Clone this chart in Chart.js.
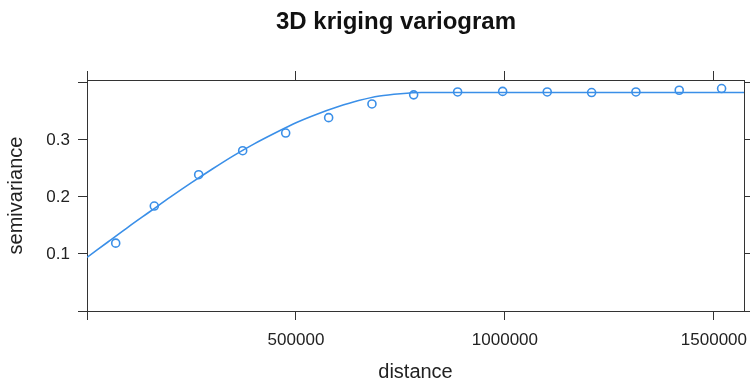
<!DOCTYPE html>
<html><head><meta charset="utf-8">
<script src="https://cdn.jsdelivr.net/npm/chart.js@4/dist/chart.umd.min.js"></script>
<style>html,body{margin:0;padding:0;background:#fff}#wrap{width:750px;height:382px;position:relative}</style>
</head><body><div id="wrap"><canvas id="c" width="750" height="382"></canvas></div>
<script>
const chartTitle = "3D kriging variogram";
const xLabel = "distance";
const yLabel = "semivariance";
// empirical variogram points
const distance = [68700, 161000, 267200, 372500, 475400, 578200, 681800, 781600, 886800, 994500, 1101200, 1207400, 1313400, 1417000, 1518400];
const gamma = [0.119, 0.184, 0.239, 0.281, 0.312, 0.339, 0.363, 0.379, 0.384, 0.385, 0.384, 0.383, 0.384, 0.387, 0.390];
// fitted model curve
const modelDistance = [0, 50000, 100000, 150000, 200000, 250000, 300000, 350000, 400000, 450000, 500000, 550000, 600000, 650000, 700000, 750000, 800000, 1572000];
const modelGamma = [0.094, 0.121, 0.148, 0.174, 0.200, 0.225, 0.249, 0.272, 0.293, 0.312, 0.330, 0.345, 0.358, 0.369, 0.377, 0.381, 0.383, 0.383];
const xTicks = [0, 500000, 1000000, 1500000];
const yTicks = [0, 0.1, 0.2, 0.3, 0.4];
const xLabeled = [500000, 1000000, 1500000];
const yLabeled = [0.1, 0.2, 0.3];

const BLUE = '#3a8fe8';
const AXIS = '#333333';
const TEXT = '#222222';
const FONT = "'Liberation Sans', Arial, sans-serif";

const titlePlugin = {
  id: 'mainTitle',
  afterDraw(chart) {
    const ctx = chart.ctx;
    ctx.save();
    ctx.fillStyle = '#111';
    ctx.font = "bold 24px " + FONT;
    ctx.textAlign = 'center';
    ctx.textBaseline = 'alphabetic';
    ctx.fillText(chartTitle, 396, 29);
    ctx.restore();
  }
};

const setTicks = (arr) => (scale) => { scale.ticks = arr.map(v => ({value: v})); };
const fixSize = (w, h) => (s) => {
  if (w !== null) s.width = w;
  if (h !== null) s.height = h;
  s.paddingLeft = 0; s.paddingRight = 0; s.paddingTop = 0; s.paddingBottom = 0;
};

const gridOpts = {drawOnChartArea: false, drawTicks: true, tickLength: 9, color: AXIS, lineWidth: 1};
const borderOpts = {display: true, color: AXIS, width: 1};

new Chart(document.getElementById('c'), {
  type: 'scatter',
  data: {
    datasets: [
      {
        label: 'model',
        data: modelDistance.map((d, i) => ({x: d, y: modelGamma[i]})),
        showLine: true,
        borderColor: BLUE,
        borderWidth: 1.6,
        pointRadius: 0,
        cubicInterpolationMode: 'monotone',
        fill: false,
        xAxisID: 'x', yAxisID: 'y'
      },
      {
        label: 'empirical',
        data: distance.map((d, i) => ({x: d, y: gamma[i]})),
        showLine: false,
        pointStyle: 'circle',
        pointRadius: 4,
        borderColor: BLUE,
        backgroundColor: 'rgba(0,0,0,0)',
        pointBorderWidth: 1.6,
        xAxisID: 'x', yAxisID: 'y'
      }
    ]
  },
  options: {
    responsive: false,
    animation: false,
    layout: {padding: 0},
    plugins: {legend: {display: false}, tooltip: {enabled: false}, title: {display: false}},
    scales: {
      x: {
        type: 'linear', position: 'bottom', min: 0, max: 1572000,
        afterBuildTicks: setTicks(xTicks),
        afterFit: fixSize(null, 71),
        grid: gridOpts, border: borderOpts,
        ticks: {autoSkip: false, maxRotation: 0, padding: 10, color: TEXT, font: {family: FONT, size: 17},
          callback: (v) => xLabeled.includes(v) ? String(v) : ''},
        title: {display: true, text: xLabel, color: TEXT, font: {family: FONT, size: 20, lineHeight: 1}, padding: {top: 0, bottom: 0}}
      },
      x2: {
        type: 'linear', position: 'top', min: 0, max: 1572000,
        afterBuildTicks: setTicks(xTicks),
        afterFit: fixSize(null, 80),
        grid: gridOpts, border: borderOpts,
        ticks: {display: false}
      },
      y: {
        type: 'linear', position: 'left', min: 0, max: 0.405,
        afterBuildTicks: setTicks(yTicks),
        afterFit: fixSize(87, null),
        grid: gridOpts, border: borderOpts,
        ticks: {autoSkip: false, padding: 8, color: TEXT, font: {family: FONT, size: 17},
          callback: (v) => yLabeled.some(t => Math.abs(t - v) < 1e-9) ? v.toFixed(1) : ''},
        title: {display: true, text: yLabel, color: TEXT, font: {family: FONT, size: 20, lineHeight: 1}, padding: {top: 6, bottom: 0}}
      },
      y2: {
        type: 'linear', position: 'right', min: 0, max: 0.405,
        afterBuildTicks: setTicks(yTicks),
        afterFit: fixSize(6, null),
        grid: gridOpts, border: borderOpts,
        ticks: {display: false}
      }
    }
  },
  plugins: [titlePlugin]
});
</script>
</body></html>
